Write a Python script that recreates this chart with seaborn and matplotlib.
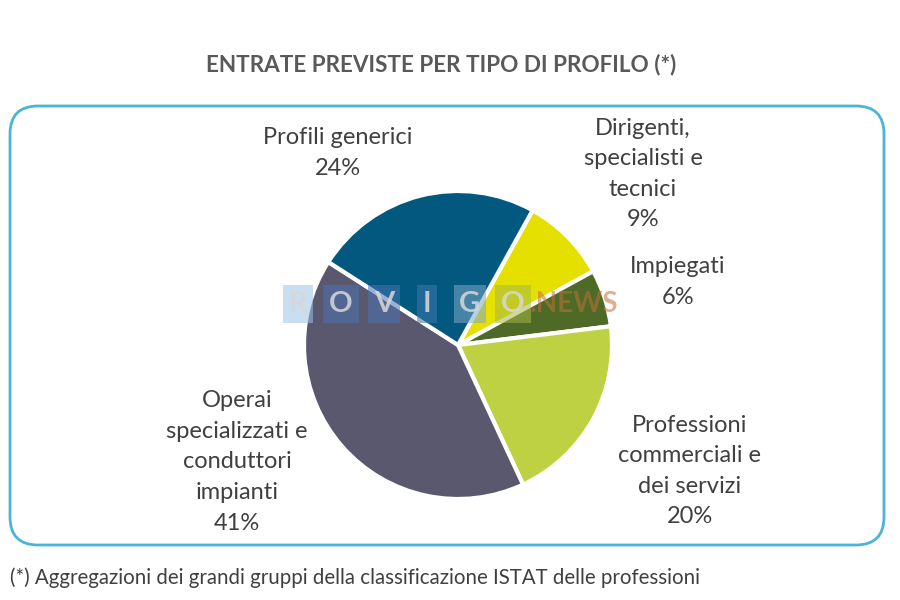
import matplotlib
matplotlib.use("Agg")
import matplotlib.pyplot as plt
import seaborn as sns
from matplotlib.patches import FancyBboxPatch

# data (clockwise from the Profili/Dirigenti boundary)
categories = ["Dirigenti,\nspecialisti e\ntecnici", "Impiegati",
              "Professioni\ncommerciali e\ndei servizi",
              "Operai\nspecializzati e\nconduttori\nimpianti",
              "Profili generici"]
shares = [9, 6, 20, 41, 24]
colors = ["#E6E000", "#4E6A26", "#BDD142", "#5A586E", "#03587F"]

title = "ENTRATE PREVISTE PER TIPO DI PROFILO (*)"
footnote = "(*) Aggregazioni dei grandi gruppi della classificazione ISTAT delle professioni"

sns.set_theme(style="white")
plt.rcParams["font.family"] = ["Lato", "DejaVu Sans"]

fig = plt.figure(figsize=(9, 6), dpi=100)
ax = fig.add_axes([0, 0, 1, 1])

# pie in pixel-like units (y up)
ax.pie(shares, colors=colors, startangle=61, counterclock=False,
       center=(458, 255), radius=154,
       wedgeprops=dict(edgecolor="white", linewidth=3))
ax.set_xlim(0, 900)
ax.set_ylim(0, 600)
ax.set_aspect("equal")
ax.axis("off")

# rounded frame
frame = FancyBboxPatch((10, 55), 874, 439, boxstyle="round,pad=0,rounding_size=28",
                       fill=False, edgecolor="#4BB4DA", linewidth=2)
ax.add_patch(frame)

# labels
label_pos = [(643, 426), (678, 318), (690, 129), (237, 138), (338, 447)]
txt_color = "#404040"
for cat, val, (x, y) in zip(categories, shares, label_pos):
    ax.text(x, y, f"{cat}\n{val}%", ha="center", va="center", fontsize=17,
            color=txt_color, linespacing=1.56)

ax.text(441, 535, title, ha="center", va="center", fontsize=16.2,
        fontweight="bold", color="#595959")
ax.text(10, 22, footnote, ha="left", va="center", fontsize=14.8, color=txt_color)

# watermark
wm_letters = ["R", "O", "V", "I", "G", "O"]
wm_bg = ["#9DC3E6", "#4A72B0", "#4A72B0", "#3B78B0", "#7FA7C9", "#A6B84A"]
for i, (ch, bg) in enumerate(zip(wm_letters, wm_bg)):
    ax.text(298 + i * 43, 296, ch, ha="center", va="center", fontsize=21,
            fontweight="bold", color="#D8D8D8", alpha=0.85,
            bbox=dict(boxstyle="square,pad=0.2", facecolor=bg, edgecolor="none", alpha=0.55))
ax.text(574, 296, ".NEWS", ha="center", va="center", fontsize=20,
        fontweight="bold", color="#C0703A", alpha=0.55)

fig.savefig("out.png", dpi=100)
